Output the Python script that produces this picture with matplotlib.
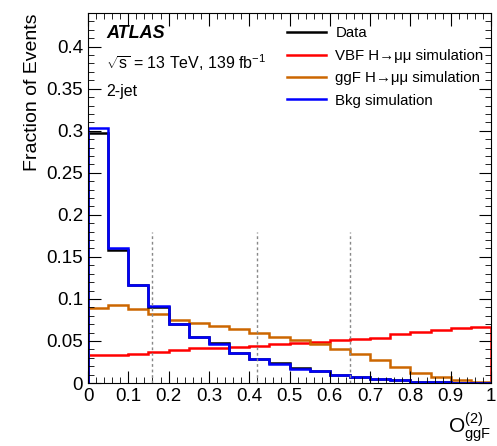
import numpy as np
import matplotlib
matplotlib.use("Agg")
import matplotlib.pyplot as plt
from matplotlib.ticker import MultipleLocator
from matplotlib.lines import Line2D

plt.rcParams['font.family'] = ['Liberation Sans', 'DejaVu Sans']
plt.rcParams['mathtext.fontset'] = 'custom'
plt.rcParams['mathtext.rm'] = 'Liberation Sans'
plt.rcParams['mathtext.it'] = 'Liberation Sans:italic'

bin_edges = np.linspace(0, 1, 21)
data = [0.297, 0.158, 0.117, 0.090, 0.070, 0.055, 0.048, 0.036, 0.028, 0.024,
        0.018, 0.014, 0.010, 0.007, 0.005, 0.003, 0.0015, 0.001, 0.0005, 0.0004]
bkg = [0.303, 0.161, 0.117, 0.091, 0.070, 0.055, 0.046, 0.036, 0.028, 0.023,
       0.017, 0.014, 0.010, 0.007, 0.005, 0.003, 0.0015, 0.001, 0.0005, 0.0004]
ggf = [0.089, 0.093, 0.088, 0.082, 0.075, 0.071, 0.068, 0.064, 0.060, 0.055,
       0.051, 0.046, 0.040, 0.034, 0.027, 0.019, 0.012, 0.007, 0.003, 0.001]
vbf = [0.033, 0.033, 0.035, 0.037, 0.039, 0.042, 0.042, 0.043, 0.044, 0.046,
       0.048, 0.049, 0.051, 0.052, 0.054, 0.058, 0.061, 0.063, 0.065, 0.067]
boundaries = [0.16, 0.42, 0.65]
boundary_height = 0.18

fig = plt.figure(figsize=(4.97, 4.46), dpi=100)
ax = fig.add_axes([88/497, 1-383/446, 403/497, 370/446])

ax.stairs(vbf, bin_edges, color='#ff0000', lw=1.8)
ax.stairs(ggf, bin_edges, color='#cc6600', lw=1.8)
ax.stairs(data, bin_edges, color='black', lw=1.8)
ax.stairs(bkg, bin_edges, color='#0000ff', lw=1.8)
for b in boundaries:
    ax.plot([b, b], [0, boundary_height], ls=(0, (2, 2)), color='#888888', lw=1.0)

ax.set_xlim(0, 1)
ax.set_ylim(0, 0.44)
ax.xaxis.set_major_locator(MultipleLocator(0.1))
ax.xaxis.set_minor_locator(MultipleLocator(0.02))
ax.yaxis.set_major_locator(MultipleLocator(0.05))
ax.yaxis.set_minor_locator(MultipleLocator(0.01))
ax.tick_params(which='both', direction='in', top=True, right=True, labelsize=13.5)
ax.tick_params(which='major', length=9)
ax.tick_params(which='minor', length=4.5)
ax.set_xticks(np.arange(0, 1.01, 0.1))
ax.set_xticklabels(['0', '0.1', '0.2', '0.3', '0.4', '0.5', '0.6', '0.7', '0.8', '0.9', '1'])
ax.set_yticks(np.arange(0, 0.41, 0.05))
ax.set_yticklabels(['0', '0.05', '0.1', '0.15', '0.2', '0.25', '0.3', '0.35', '0.4'])

ax.set_ylabel('Fraction of Events', fontsize=14, loc='top')
ax.set_xlabel(r'$\mathrm{O}_{\mathrm{ggF}}^{(2)}$', fontsize=15, loc='right')

ax.text(0.045, 0.945, 'ATLAS', transform=ax.transAxes, fontsize=13, weight='bold', style='italic', va='center')
ax.text(0.045, 0.865, r'$\sqrt{\mathrm{s}}$ = 13 TeV, 139 fb$^{\mathrm{-1}}$', transform=ax.transAxes, fontsize=11.5, va='center')
ax.text(0.045, 0.787, '2-jet', transform=ax.transAxes, fontsize=11.5, va='center')

handles = [Line2D([], [], color='black', lw=1.8),
           Line2D([], [], color='#ff0000', lw=1.8),
           Line2D([], [], color='#cc6600', lw=1.8),
           Line2D([], [], color='#0000ff', lw=1.8)]
labels = ['Data', 'VBF H\u2192\u03bc\u03bc simulation', 'ggF H\u2192\u03bc\u03bc simulation', 'Bkg simulation']
ax.legend(handles, labels, loc='upper left', bbox_to_anchor=(0.48, 0.98), frameon=False,
          fontsize=10.8, handlelength=2.6, labelspacing=0.56, handletextpad=0.6, borderaxespad=0)

fig.savefig('out.png', dpi=100)
